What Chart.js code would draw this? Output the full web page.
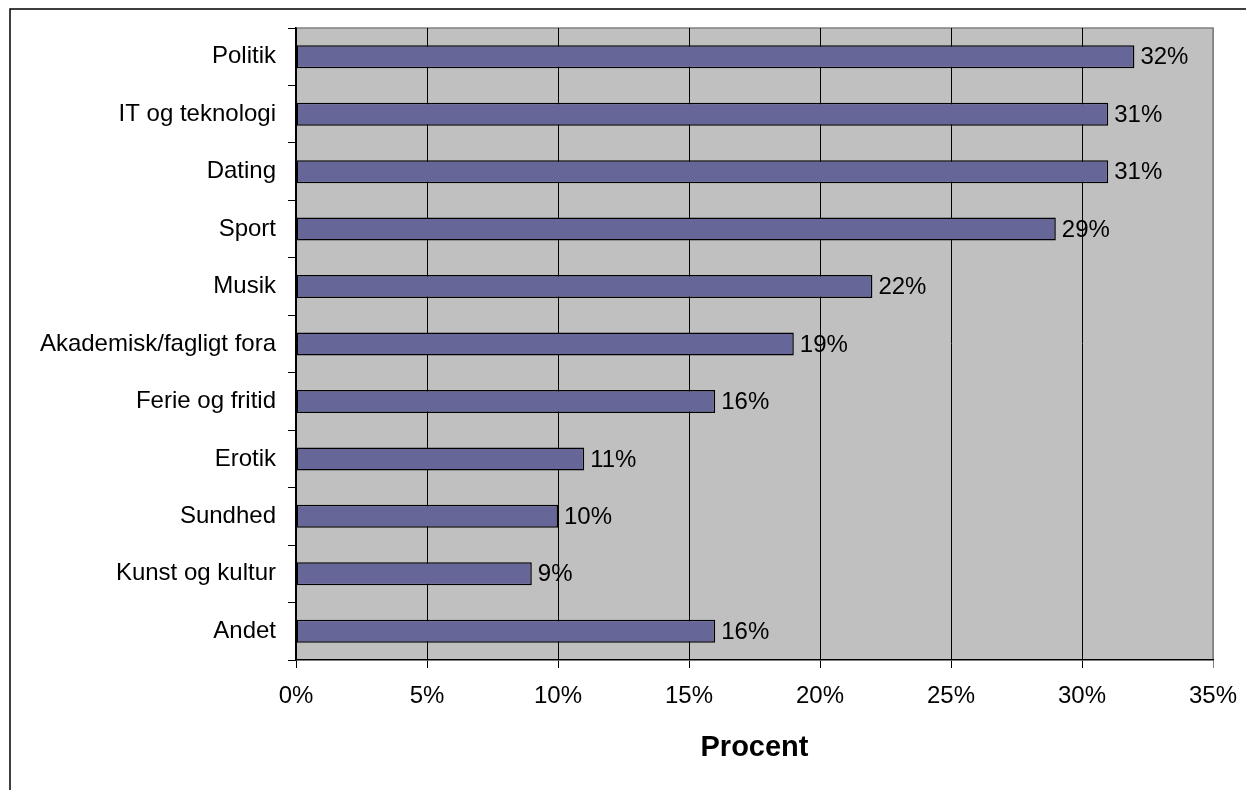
<!DOCTYPE html>
<html>
<head>
<meta charset="utf-8">
<script src="https://cdn.jsdelivr.net/npm/chart.js@4/dist/chart.umd.min.js"></script>
<style>
  html, body { margin: 0; padding: 0; background: #fff; }
  #wrap { width: 1246px; height: 790px; position: relative; }
</style>
</head>
<body>
<div id="wrap"><canvas id="grafico"></canvas></div>
<script>
const kategorier = ['Politik', 'IT og teknologi', 'Dating', 'Sport', 'Musik', 'Akademisk/fagligt fora', 'Ferie og fritid', 'Erotik', 'Sundhed', 'Kunst og kultur', 'Andet'];
const procenter = [32, 31, 31, 29, 22, 19, 16, 11, 10, 9, 16];
const akseMax = 35;
const akseStep = 5;
const akseTitel = 'Procent';

const fontNavn = '"Liberation Sans", Arial, sans-serif';

// hvid baggrund, ramme og graa plotomraade
const baggrund = {
    id: 'baggrund',
    beforeDraw(chart) {
        const ctx = chart.ctx;
        const a = chart.chartArea;
        ctx.save();
        ctx.fillStyle = '#ffffff';
        ctx.fillRect(0, 0, chart.width, chart.height);
        ctx.strokeStyle = '#000000';
        ctx.lineWidth = 1.5;
        ctx.beginPath();
        ctx.moveTo(10, chart.height);
        ctx.lineTo(10, 9);
        ctx.lineTo(chart.width, 9);
        ctx.stroke();
        ctx.fillStyle = '#c0c0c0';
        ctx.fillRect(a.left, a.top, a.right - a.left, a.bottom - a.top);
        ctx.strokeStyle = '#808080';
        ctx.lineWidth = 1.5;
        ctx.beginPath();
        ctx.moveTo(a.left, a.top);
        ctx.lineTo(a.right, a.top);
        ctx.lineTo(a.right, a.bottom);
        ctx.stroke();
        ctx.restore();
    }
};

// procent-tekst ved enden af hver bjaelke
const vaerdiTekst = {
    id: 'vaerdiTekst',
    afterDatasetsDraw(chart) {
        const ctx = chart.ctx;
        const meta = chart.getDatasetMeta(0);
        ctx.save();
        ctx.font = '24px ' + fontNavn;
        ctx.fillStyle = '#000000';
        ctx.textAlign = 'left';
        ctx.textBaseline = 'middle';
        meta.data.forEach((bar, i) => {
            ctx.fillText(procenter[i] + '%', bar.x + 6, bar.y + 1);
        });
        ctx.restore();
    }
};

new Chart(document.getElementById('grafico').getContext('2d'), {
    type: 'bar',
    data: {
        labels: kategorier,
        datasets: [{
            data: procenter,
            backgroundColor: '#666699',
            borderColor: '#000000',
            borderWidth: 1.5,
            borderSkipped: false,
            categoryPercentage: 0.4,
            barPercentage: 1.0
        }]
    },
    options: {
        indexAxis: 'y',
        responsive: true,
        maintainAspectRatio: false,
        animation: false,
        layout: { padding: { left: 0, top: 28, right: 33, bottom: 25 } },
        plugins: {
            legend: { display: false },
            tooltip: { enabled: false }
        },
        scales: {
            x: {
                min: 0,
                max: akseMax,
                ticks: {
                    stepSize: akseStep,
                    padding: 14,
                    color: '#000000',
                    font: { family: fontNavn, size: 24 },
                    callback: function(value) {
                        return value + '%';
                    }
                },
                grid: {
                    color: function(c) {
                        return c.tick && c.tick.value === akseMax ? '#808080' : '#000000';
                    },
                    lineWidth: 1,
                    tickLength: 8
                },
                border: { color: '#000000', width: 1.5 },
                title: {
                    display: true,
                    text: akseTitel,
                    color: '#000000',
                    font: { family: fontNavn, size: 29, weight: 'bold' },
                    padding: { top: 20, bottom: 0 }
                },
                afterFit: function(scale) {
                    scale.height = 105;
                    scale.paddingLeft = 0;
                    scale.paddingRight = 0;
                }
            },
            y: {
                ticks: {
                    padding: 12,
                    color: '#000000',
                    font: { family: fontNavn, size: 24 }
                },
                grid: {
                    drawOnChartArea: false,
                    drawTicks: true,
                    tickLength: 8,
                    color: '#000000',
                    offset: true
                },
                border: { color: '#000000', width: 1.5 },
                afterFit: function(scale) {
                    scale.width = 296;
                }
            }
        }
    },
    plugins: [baggrund, vaerdiTekst]
});
</script>
</body>
</html>
